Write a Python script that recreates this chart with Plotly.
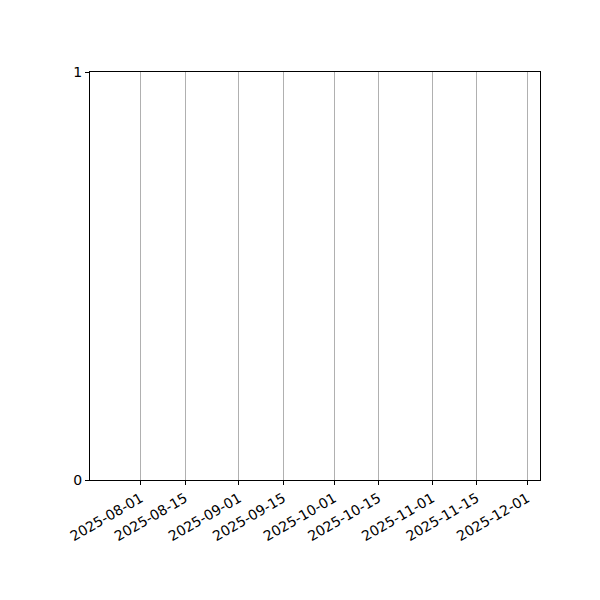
import plotly.graph_objects as go

# the series in the source is empty, only the axes are drawn
dates = []
values = []

x_start, x_end = "2025-07-16", "2025-12-05"
tick_dates = ["2025-08-01", "2025-08-15", "2025-09-01", "2025-09-15", "2025-10-01",
              "2025-10-15", "2025-11-01", "2025-11-15", "2025-12-01"]
y_ticks = [0, 1]

fig = go.Figure()
fig.add_trace(go.Scatter(x=dates, y=values, mode="lines", line=dict(color="#1f77b4")))

fig.update_layout(
    width=600, height=600,
    margin=dict(l=82, r=68, t=64, b=128),
    plot_bgcolor="white", paper_bgcolor="white",
    font=dict(family="DejaVu Sans", size=14, color="black"),
    showlegend=False,
)
fig.update_xaxes(
    type="date", range=[x_start, x_end],
    tickmode="array", tickvals=tick_dates, ticktext=tick_dates,
    tickangle=-30, ticks="outside", ticklen=4, tickcolor="black",
    showgrid=True, gridcolor="#b0b0b0", gridwidth=1,
    showline=True, linecolor="black", linewidth=1, mirror=True,
    zeroline=False,
)
fig.update_yaxes(
    range=[0, 1], tickmode="array", tickvals=y_ticks,
    ticks="outside", ticklen=4, tickcolor="black",
    showgrid=False,
    showline=True, linecolor="black", linewidth=1, mirror=True,
    zeroline=False,
)

fig.write_html("out.html")
